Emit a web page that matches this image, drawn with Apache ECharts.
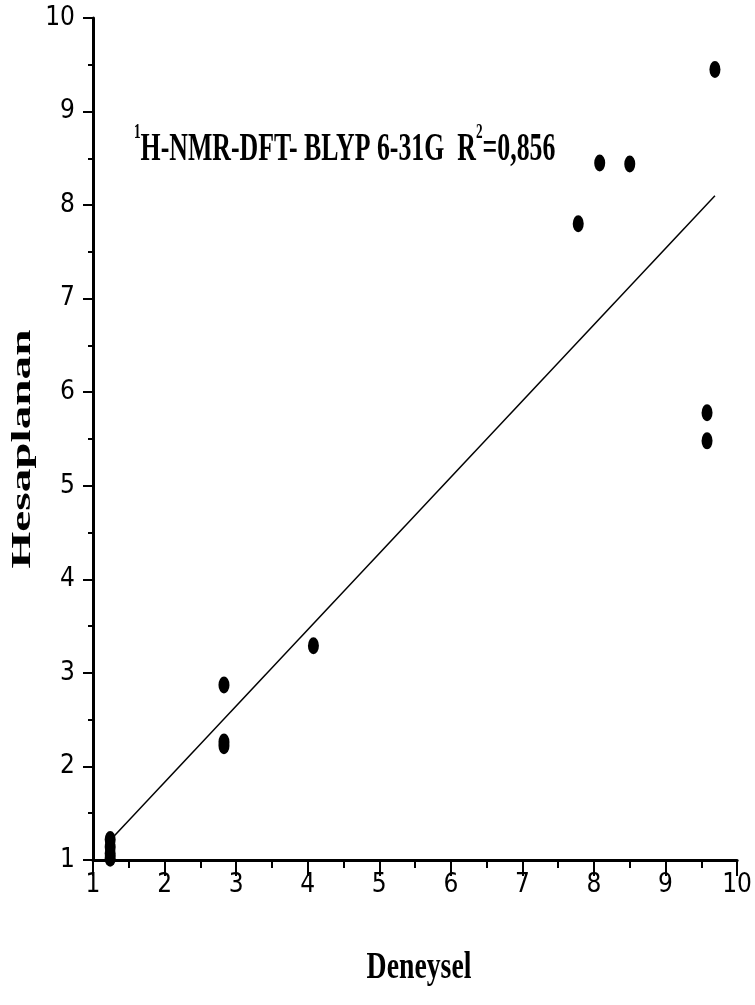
<!DOCTYPE html>
<html>
<head>
<meta charset="utf-8">
<script src="https://cdn.jsdelivr.net/npm/echarts@6/dist/echarts.min.js"></script>
<style>
  html, body { margin: 0; padding: 0; background: #fff; }
  #chart { width: 755px; height: 1005px; }
</style>
</head>
<body>
<div id="chart"></div>
<script>
const deneysel   = [1.24, 1.24, 1.24, 1.24, 2.83, 2.83, 2.83, 4.08, 7.78, 8.08, 8.50, 9.58, 9.58, 9.69];
const hesaplanan = [1.22, 1.14, 1.07, 1.02, 2.87, 2.26, 2.22, 3.29, 7.80, 8.45, 8.44, 5.78, 5.48, 9.45];

// linear fit end points
const fitX = [1.24, 9.69];
const fitY = [1.21, 8.10];

const axisMin = 1;
const axisMax = 10;

const tickFont = "'Liberation Sans Narrow', 'DejaVu Sans Condensed', sans-serif";
const serif = "'Liberation Serif', 'DejaVu Serif', serif";

const chart = echarts.init(document.getElementById('chart'));

const axisCommon = {
    type: 'value',
    min: axisMin,
    max: axisMax,
    interval: 1,
    splitLine: { show: false },
    axisLine: { show: true, onZero: false, lineStyle: { color: '#000', width: 3 } },
    axisLabel: { color: '#000', fontFamily: tickFont, fontSize: 26 },
    minorTick: { show: true, splitNumber: 2, lineStyle: { color: '#000', width: 2 } }
};

chart.setOption({
    animation: false,
    backgroundColor: '#fff',
    grid: { left: 93, right: 14, top: 18, bottom: 145, containLabel: false },
    xAxis: Object.assign({}, axisCommon, {
        axisTick: { show: true, inside: false, length: 16, lineStyle: { color: '#000', width: 2 } },
        minorTick: Object.assign({}, axisCommon.minorTick, { length: 8 }),
        axisLabel: Object.assign({}, axisCommon.axisLabel, { margin: 12 })
    }),
    yAxis: Object.assign({}, axisCommon, {
        axisTick: { show: true, inside: false, length: 10, lineStyle: { color: '#000', width: 2 } },
        minorTick: Object.assign({}, axisCommon.minorTick, { length: 5 }),
        axisLabel: Object.assign({}, axisCommon.axisLabel, { margin: 18 })
    }),
    graphic: [
        {
            type: 'text',
            x: 134, y: 122,
            scaleX: 0.63,
            style: {
                text: '{s|1}{m|H-NMR-DFT- BLYP 6-31G  R}{s|2}{m|=0,856}',
                fill: '#000',
                rich: {
                    s: { fontFamily: serif, fontWeight: 'bold', fontSize: 21, verticalAlign: 'top', lineHeight: 48 },
                    m: { fontFamily: serif, fontWeight: 'bold', fontSize: 41, verticalAlign: 'bottom', lineHeight: 48 }
                }
            }
        },
        {
            type: 'text',
            x: 419, y: 968,
            scaleX: 0.75,
            style: {
                text: 'Deneysel', fill: '#000',
                fontFamily: serif, fontWeight: 'bold', fontSize: 37,
                align: 'center', verticalAlign: 'middle'
            }
        },
        {
            type: 'text',
            x: 23, y: 449,
            rotation: Math.PI / 2,
            scaleX: 1.75,
            style: {
                text: 'Hesaplanan', fill: '#000',
                fontFamily: serif, fontWeight: 'bold', fontSize: 27,
                align: 'center', verticalAlign: 'middle'
            }
        }
    ],
    series: [
        {
            type: 'line',
            data: fitX.map((x, i) => [x, fitY[i]]),
            showSymbol: false,
            symbol: 'none',
            lineStyle: { color: '#000', width: 1.5 },
            z: 2
        },
        {
            type: 'scatter',
            data: deneysel.map((x, i) => [x, hesaplanan[i]]),
            symbol: 'circle',
            symbolSize: [11, 17],
            itemStyle: { color: '#000', opacity: 1 },
            z: 3
        }
    ]
});
</script>
</body>
</html>
